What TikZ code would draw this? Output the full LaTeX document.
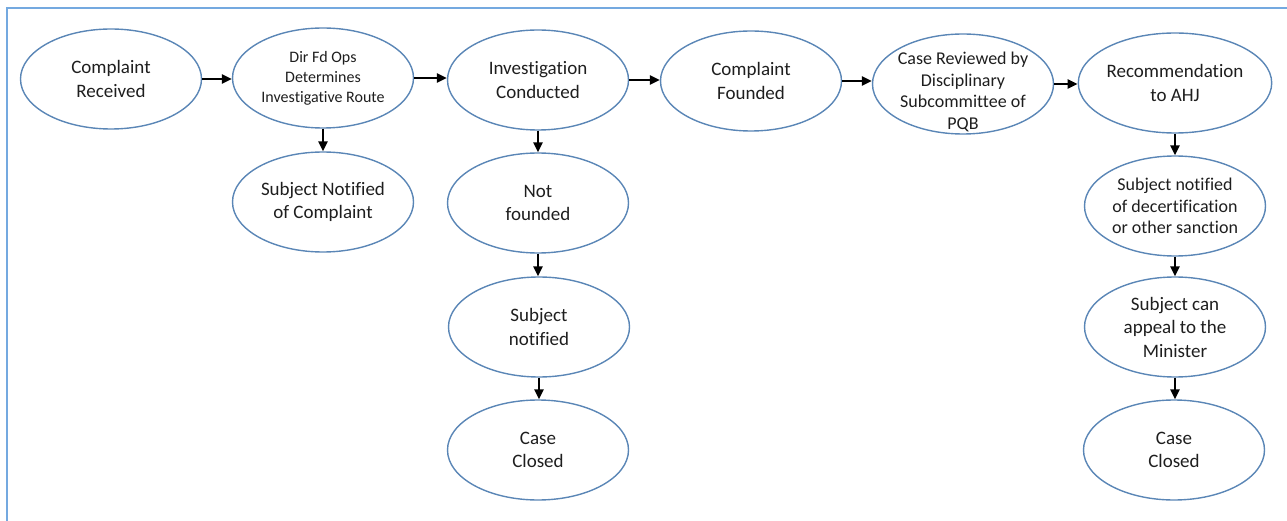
\documentclass[tikz,border=0pt]{standalone}
\usepackage{fontspec}
\setmainfont{Carlito}[Ligatures=NoCommon]
\usetikzlibrary{shapes.geometric,arrows.meta}
\definecolor{ellblue}{HTML}{5A86B6}
\definecolor{framblue}{HTML}{74A9E0}
\definecolor{txtgray}{HTML}{1E1E1E}
\begin{document}
\begin{tikzpicture}[x=1pt,y=-1pt,
  ell/.style={ellipse, draw=ellblue, line width=1.4pt, minimum width=181pt, minimum height=100pt,
    inner sep=0pt, align=center, text=txtgray, font=\fontsize{19}{23.5}\selectfont},
  smalltxt/.style={font=\fontsize{16}{20}\selectfont},
  midtxt/.style={font=\fontsize{18}{21.5}\selectfont},
  plaintxt/.style={align=center, text=txtgray, inner sep=0pt},
  arr/.style={-{Triangle[length=10pt,width=9pt]}, line width=2.6pt, black}]
\useasboundingbox (0,0) rectangle (1287,521);
\draw[framblue, line width=2pt] (7,521) -- (7,8) -- (1287,8);

\node[ell] (cr)  at (111,79)  {Complaint\\Received};
\node[ell,smalltxt] (dfo) at (323,78) {Dir Fd Ops\\Determines\\Investigative Route};
\node[ell] (snc) at (323,202) {Subject Notified\\of Complaint};
\node[ell] (ic)  at (538,80)  {Investigation\\Conducted};
\node[ell] (cf)  at (751,81)  {Complaint\\Founded};
\node[ell] (crv) at (963,84)  {};
\node[plaintxt,midtxt] (crvt) at (963,92) {Case Reviewed by\\Disciplinary\\Subcommittee of\\PQB};
\node[ell] (rec) at (1175,83) {Recommendation\\to AHJ};
\node[ell,midtxt] (snd) at (1175,206) {Subject notified\\of decertification\\or other sanction};
\node[ell] (sca) at (1175,327) {Subject can\\appeal to the\\Minister};
\node[ell] (cc2) at (1174,450) {Case\\Closed};
\node[ell] (nf)  at (538,203) {Not\\founded};
\node[ell] (sn)  at (539,327) {Subject\\notified};
\node[ell] (cc1) at (538,450) {Case\\Closed};

\draw[arr] (cr.east)  -- (cr.east -| dfo.west);
\draw[arr] (dfo.east) -- (dfo.east -| ic.west);
\draw[arr] (ic.east)  -- (ic.east -| cf.west);
\draw[arr] (cf.east)  -- (cf.east -| crv.west);
\draw[arr] (crv.east) -- (crv.east -| rec.west);

\draw[arr] (dfo.south) -- (dfo.south |- snc.north);
\draw[arr] (ic.south)  -- (ic.south |- nf.north);
\draw[arr] (nf.south)  -- (nf.south |- sn.north);
\draw[arr] (sn.south)  -- (sn.south |- cc1.north);
\draw[arr] (rec.south) -- (rec.south |- snd.north);
\draw[arr] (snd.south) -- (snd.south |- sca.north);
\draw[arr] (sca.south) -- (sca.south |- cc2.north);
\end{tikzpicture}
\end{document}
